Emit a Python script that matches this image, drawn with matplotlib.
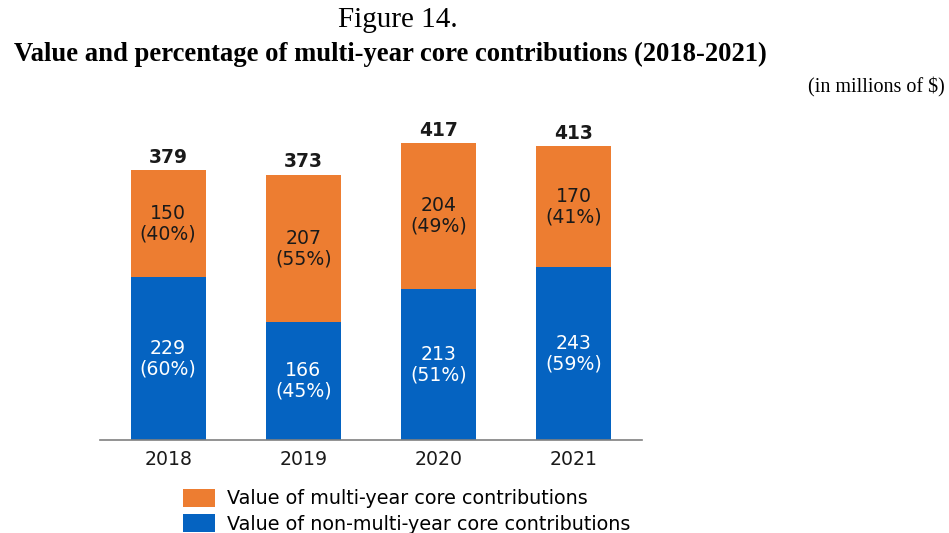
import matplotlib
matplotlib.use("Agg")
import matplotlib.pyplot as plt
from matplotlib.patches import Patch

years = ["2018", "2019", "2020", "2021"]
multi_year = [150, 207, 204, 170]
non_multi_year = [229, 166, 213, 243]
multi_pct = [40, 55, 49, 41]
non_multi_pct = [60, 45, 51, 59]
totals = [379, 373, 417, 413]

orange = "#ED7D31"
blue = "#0563C1"
font = ["DejaVu Sans"]

fig = plt.figure(figsize=(9.49, 5.33), dpi=100)
ax = fig.add_axes([100/949, (533-440)/533, 542/949, 320/533])

x = list(range(len(years)))
ax.bar(x, non_multi_year, width=0.556, color=blue)
ax.bar(x, multi_year, width=0.556, bottom=non_multi_year, color=orange)

for i in x:
    nb = non_multi_year[i]
    mb = multi_year[i]
    ax.text(i, nb/2, f"{nb}\n({non_multi_pct[i]}%)", ha="center", va="center",
            color="white", fontsize=13.6, family=font, linespacing=1.1)
    ax.text(i, nb + mb/2, f"{mb}\n({multi_pct[i]}%)", ha="center", va="center",
            color="#1a1a1a", fontsize=13.6, family=font, linespacing=1.1)
    ax.text(i, totals[i] + 18, f"{totals[i]}", ha="center", va="center",
            color="#1a1a1a", fontsize=13.4, family=font, fontweight="bold")

ax.set_xlim(-0.504, 3.504)
ax.set_ylim(0, 450)
ax.set_xticks(x)
ax.set_xticklabels(years, family=font, fontsize=13.6, color="#1a1a1a")
ax.tick_params(axis="x", length=0, pad=7)
ax.set_yticks([])
for s in ["top", "right", "left"]:
    ax.spines[s].set_visible(False)
ax.spines["bottom"].set_color("#808080")
ax.spines["bottom"].set_linewidth(1.2)

fig.text(398/949, 1 - 20/533, "Figure 14.", ha="center", va="center",
         family="Liberation Serif", fontsize=21)
fig.text(390/949, 1 - 54/533, "Value and percentage of multi-year core contributions (2018-2021)",
         ha="center", va="center", family="Liberation Serif", fontsize=19.2, fontweight="bold")
fig.text(945/949, 1 - 87/533, "(in millions of $)", ha="right", va="center",
         family="Liberation Serif", fontsize=14.5)

handles = [Patch(facecolor=orange), Patch(facecolor=blue)]
labels = ["Value of multi-year core contributions", "Value of non-multi-year core contributions"]
fig.legend(handles, labels, loc="upper left", bbox_to_anchor=(183/949, 1 - 489/533),
           frameon=False, prop={"family": font, "size": 13.8},
           handlelength=1.65, handleheight=1.05, handletextpad=0.65, labelspacing=0.3,
           borderpad=0, borderaxespad=0)

fig.savefig("out.png", dpi=100)
